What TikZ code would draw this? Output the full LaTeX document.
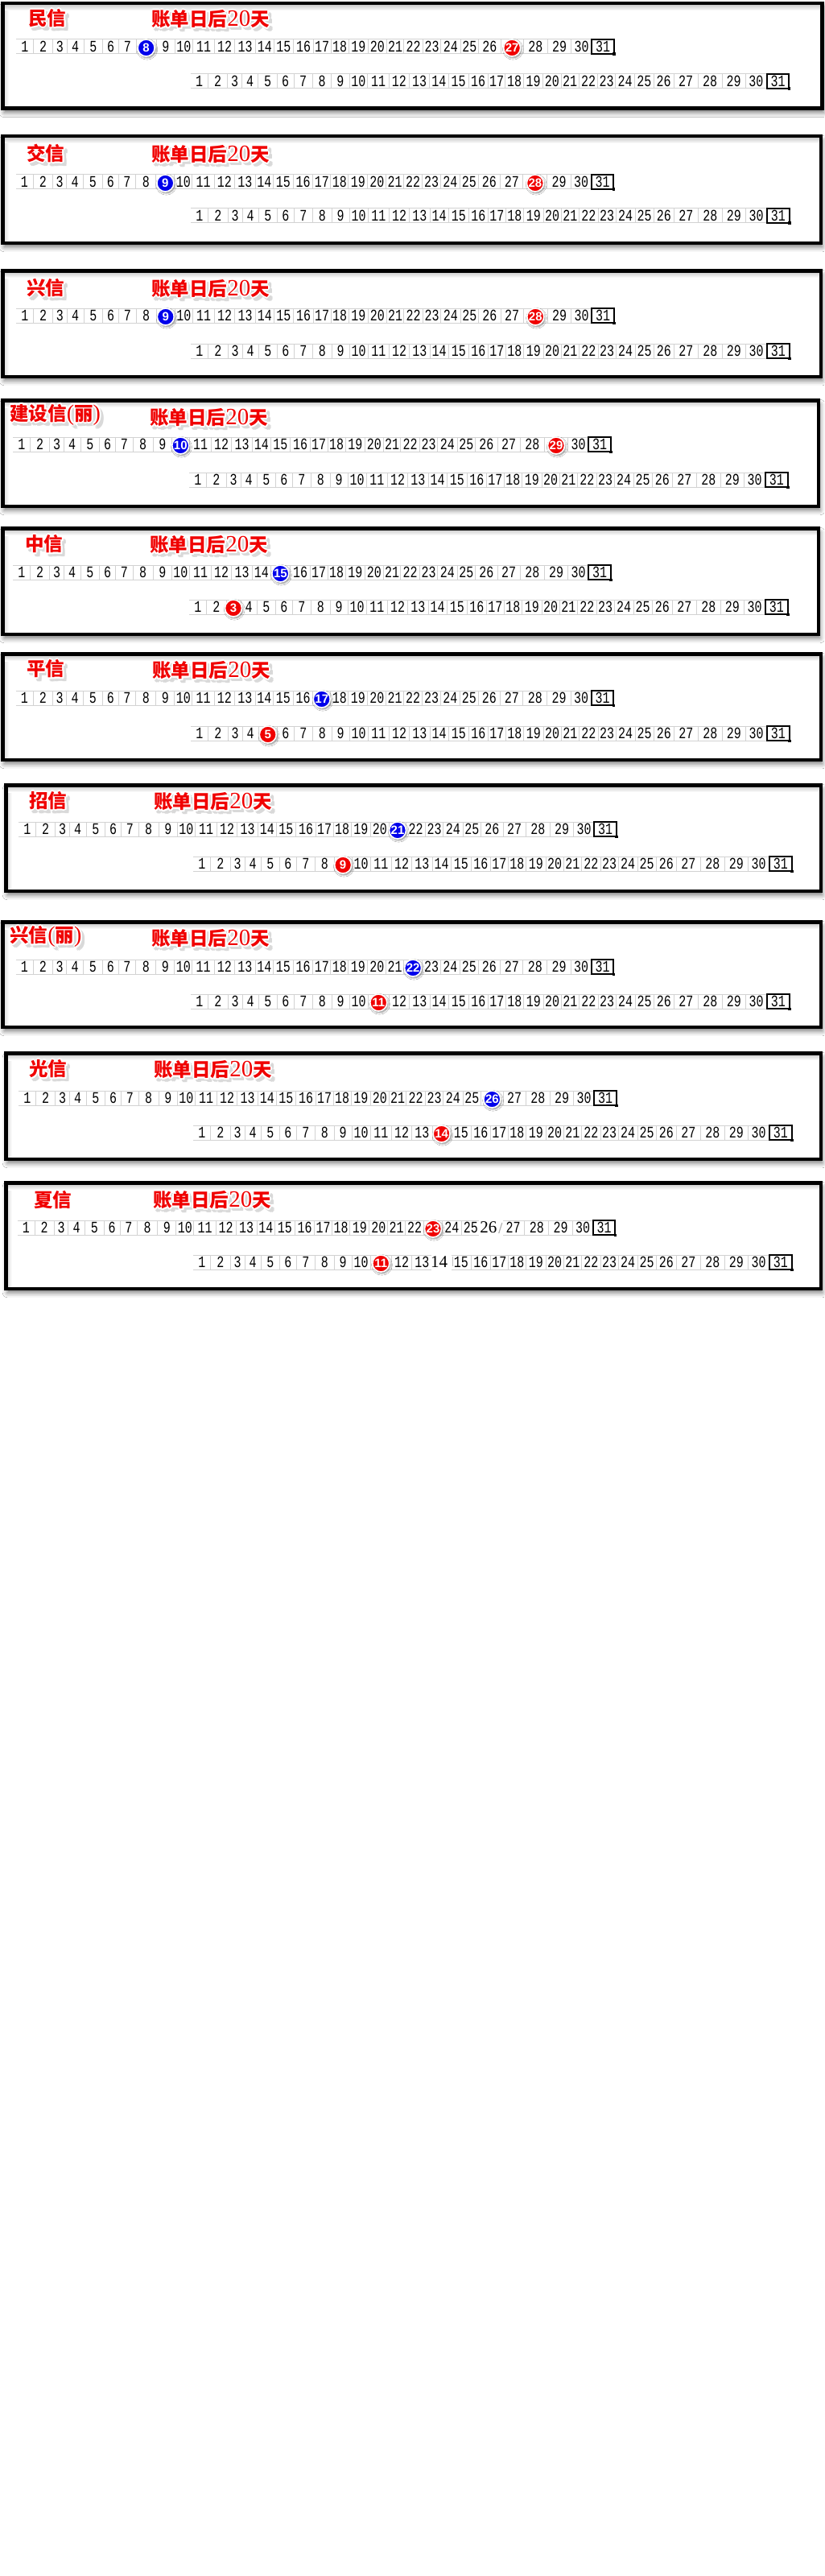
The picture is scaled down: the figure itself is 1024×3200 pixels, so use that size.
\documentclass[tikz,border=0pt]{standalone}
\usepackage{fontspec}
\usetikzlibrary{calc,shadows.blur}
\newfontfamily\cjk{Noto Sans CJK SC}
\newfontfamily\numfont[FakeStretch=0.75]{Liberation Mono}
\newfontfamily\serif{Liberation Serif}
\newfontfamily\circfont{Liberation Sans}
\definecolor{cblue}{RGB}{0,0,235}
\definecolor{cred}{RGB}{240,0,0}
\definecolor{tred}{RGB}{240,0,0}
\def\rowA{0,21.7,45.7,63.3,84,107.7,127.7,149,174.3,197.3,219.3,246.7,271.7,297.7,320,344.7,369.3,391,413.3,437.3,460.3,481.7,505.3,527.7,552,574.7,602,630.3,660.3,689.7,715.3,742.7}
\def\rowB{0,21.6,46,64,84,107.6,128.3,151.6,175,197.3,220,246.6,271.6,297,320.3,345.3,369.6,391,413.6,438,460.3,482.6,506,528,552,575.3,600.3,630.3,660.3,689.3,716,743.6}
\tikzset{
  gridline/.style={draw=gray!35, line width=0.5pt},
  num/.style={inner sep=0pt, text=black, font=\numfont\fontsize{10}{10}\selectfont},
  bignum/.style={inner sep=0pt, text=black, xshift=-1.5pt, font=\serif\fontsize{10.5}{10.5}\selectfont},
  daycirc/.style={circle, minimum size=10.5pt, inner sep=0pt, draw=white, line width=0.8pt, text=white,
    font=\circfont\bfseries\fontsize{7.5}{7.5}\selectfont,
    blur shadow={shadow xshift=0.6pt, shadow yshift=-0.9pt, shadow blur radius=1.2pt, shadow opacity=50}},
  box31/.style={draw=black, line width=1pt},
  frameline/.style={draw=black, line width=2.25pt},
  ttlsty/.style={anchor=west, inner sep=0pt, font=\fontsize{11.75}{12}\selectfont},
}
\newcommand\bill{{\cjk\bfseries 账单日后}{\serif\fontsize{14.5}{14.5}\selectfont 20}{\cjk\bfseries 天}}
\newcommand\lparen{{\serif\fontsize{14}{14}\selectfont (}}
\newcommand\rparen{{\serif\fontsize{14}{14}\selectfont )}}
\newcommand\ttl[4]{%
  \foreach \dx/\dy [count=\i] in {2/2,3/3,4/4,2/4,4/2,3/5,5/3,5/5}
    \node[ttlsty, text=gray!30] (#1-s\i) at (#2+\dx,#3+\dy) {#4};
  \foreach \dx/\dy [count=\i] in {-2/0,2/0,0/-2,0/2,-1.4/-1.4,1.4/1.4,-1.4/1.4,1.4/-1.4}
    \node[ttlsty, text=white] (#1-w\i) at (#2+\dx,#3+\dy) {#4};
  \node[ttlsty, text=tred] (#1) at (#2,#3) {#4};
}
\newcommand\panel[5]{%
  \fill[white, blur shadow={shadow xshift=1pt, shadow yshift=-2.5pt, shadow blur radius=3pt, shadow opacity=55}]
    (#2+2.25,#3+2.25) rectangle (#4-2.25,#5-2.25);
  \shade[left color=gray!25, right color=white] (#2+4,#3+4) rectangle (#2+10,#5-4);
  \shade[top color=gray!40, bottom color=white] (#2+4,#3+4) rectangle (#4-4,#3+11);
  \draw[frameline] (#2+2.25,#3+2.25) coordinate (#1-tl) rectangle (#4-2.25,#5-2.25) coordinate (#1-br);
}
\newcommand\calrow[9]{%
  \foreach \b [count=\k] in #2 {
    \coordinate (#1-b\k) at (#3+\b,#4);
    \coordinate (#1-c\k) at (#3+\b,#4+18);
  }
  \draw[gridline] (#1-b1) -- (#1-b31);
  \draw[gridline] (#1-c1) -- (#1-c31);
  \foreach \k in {2,...,30} \draw[gridline] (#1-b\k) -- (#1-c\k);
  \ifnum#9>0
    \pgfmathtruncatemacro\spn{#9+1}%
    \fill[white] ($(#1-b#9)+(-1,-1)$) rectangle ($(#1-c\spn)+(1,1)$);
    \node[bignum] (#1-sp) at ($(#1-b#9)!0.5!(#1-c\spn)$) {#9};
  \fi
  \foreach \k [evaluate=\k as \kk using int(\k+1)] in {1,...,31} {
    \ifnum\k=#5\relax\else\ifnum\k=#7\relax\else\ifnum\k=#9\relax\else
      \node[num] (#1-n\k) at ($(#1-b\k)!0.5!(#1-c\kk)$) {\k};
    \fi\fi\fi
  }
  \draw[box31] (#1-b31) rectangle (#1-c32);
  \fill[black] ($(#1-c32)+(-1.5,-1.5)$) rectangle ($(#1-c32)+(2,2)$);
  \ifnum#5>0
    \pgfmathtruncatemacro\nxa{#5+1}%
    \node[daycirc, fill=#6] (#1-d1) at ($(#1-b#5)!0.5!(#1-c\nxa)+(0,1.5)$) {#5};
  \fi
  \ifnum#7>0
    \pgfmathtruncatemacro\nxb{#7+1}%
    \node[daycirc, fill=#8] (#1-d2) at ($(#1-b#7)!0.5!(#1-c\nxb)+(0,1.5)$) {#7};
  \fi
}
\begin{document}
\begin{tikzpicture}[x=0.5pt, y=-0.5pt]
\useasboundingbox (0,0) rectangle (1024,3200);
\fill[white] (0,0) rectangle (1024,3200);
% panel 1
\panel{f1}{1}{2}{1023.5}{137}
\ttl{t1}{35}{22.5}{\cjk\bfseries 民信}
\ttl{b1}{188}{24}{\bill}
\calrow{r1a}{\rowA}{20}{49}{8}{cblue}{27}{cred}{0}
\calrow{r1b}{\rowB}{236.7}{92}{0}{cblue}{0}{cred}{0}
% panel 2
\panel{f2}{1}{167}{1022}{304}
\ttl{t2}{33}{190}{\cjk\bfseries 交信}
\ttl{b2}{188}{192}{\bill}
\calrow{r2a}{\rowA}{19.6}{217}{9}{cblue}{28}{cred}{0}
\calrow{r2b}{\rowB}{237}{259}{0}{cblue}{0}{cred}{0}
% panel 3
\panel{f3}{1}{334}{1022}{470}
\ttl{t3}{33}{357.5}{\cjk\bfseries 兴信}
\ttl{b3}{188}{358.5}{\bill}
\calrow{r3a}{\rowA}{20}{383}{9}{cblue}{28}{cred}{0}
\calrow{r3b}{\rowB}{237}{427}{0}{cblue}{0}{cred}{0}
% panel 4
\panel{f4}{1}{495}{1019}{631}
\ttl{t4}{12}{515}{{\cjk\bfseries 建设信}\lparen{\cjk\bfseries 丽}\rparen}
\ttl{b4}{186}{519}{\bill}
\calrow{r4a}{\rowA}{16}{543}{10}{cblue}{29}{cred}{0}
\calrow{r4b}{\rowB}{235}{587}{0}{cblue}{0}{cred}{0}
% panel 5
\panel{f5}{1}{654}{1019}{790}
\ttl{t5}{31}{676}{\cjk\bfseries 中信}
\ttl{b5}{186}{676.7}{\bill}
\calrow{r5a}{\rowA}{16}{702}{15}{cblue}{0}{cred}{0}
\calrow{r5b}{\rowB}{235}{745}{3}{cred}{0}{cred}{0}
% panel 6
\panel{f6}{1}{810}{1022}{946}
\ttl{t6}{33}{831}{\cjk\bfseries 平信}
\ttl{b6}{189}{833}{\bill}
\calrow{r6a}{\rowA}{19.6}{858}{17}{cblue}{0}{cred}{0}
\calrow{r6b}{\rowB}{237}{902}{5}{cred}{0}{cred}{0}
% panel 7
\panel{f7}{5}{973}{1022}{1109}
\ttl{t7}{36}{994.5}{\cjk\bfseries 招信}
\ttl{b7}{191}{996}{\bill}
\calrow{r7a}{\rowA}{23}{1021}{21}{cblue}{0}{cred}{0}
\calrow{r7b}{\rowB}{240}{1064}{9}{cred}{0}{cred}{0}
% panel 8
\panel{f8}{1}{1143}{1022}{1278}
\ttl{t8}{12}{1163.5}{{\cjk\bfseries 兴信}\lparen{\cjk\bfseries 丽}\rparen}
\ttl{b8}{188}{1166}{\bill}
\calrow{r8a}{\rowA}{19.6}{1192}{22}{cblue}{0}{cred}{0}
\calrow{r8b}{\rowB}{237}{1235}{11}{cred}{0}{cred}{0}
% panel 9
\panel{f9}{5}{1306}{1022}{1442}
\ttl{t9}{36}{1328}{\cjk\bfseries 光信}
\ttl{b9}{191}{1329}{\bill}
\calrow{r9a}{\rowA}{23}{1355}{26}{cblue}{0}{cred}{0}
\calrow{r9b}{\rowB}{240}{1398}{14}{cred}{0}{cred}{0}
% panel 10
\panel{f10}{5}{1467}{1022}{1603}
\node[ttlsty, text=tred] (t10) at (42,1490.5) {\cjk\bfseries 夏信};
\ttl{b10}{190}{1491}{\bill}
\calrow{r10a}{\rowA}{21.5}{1516}{23}{cred}{0}{cred}{26}
\calrow{r10b}{\rowB}{240}{1559}{11}{cred}{0}{cred}{14}
\draw[gray!60, line width=0.6pt] ($(r10a-sp.east)+(2,7)$) coordinate (s1) -- ($(r10a-sp.east)+(6,-6)$) coordinate (s2);
\draw[gray!50, line width=0.75pt] ($(r10b-sp.east)+(6,-7)$) coordinate (s3) -- ($(r10b-sp.east)+(6,5)$) coordinate (s4);
\end{tikzpicture}
\end{document}
